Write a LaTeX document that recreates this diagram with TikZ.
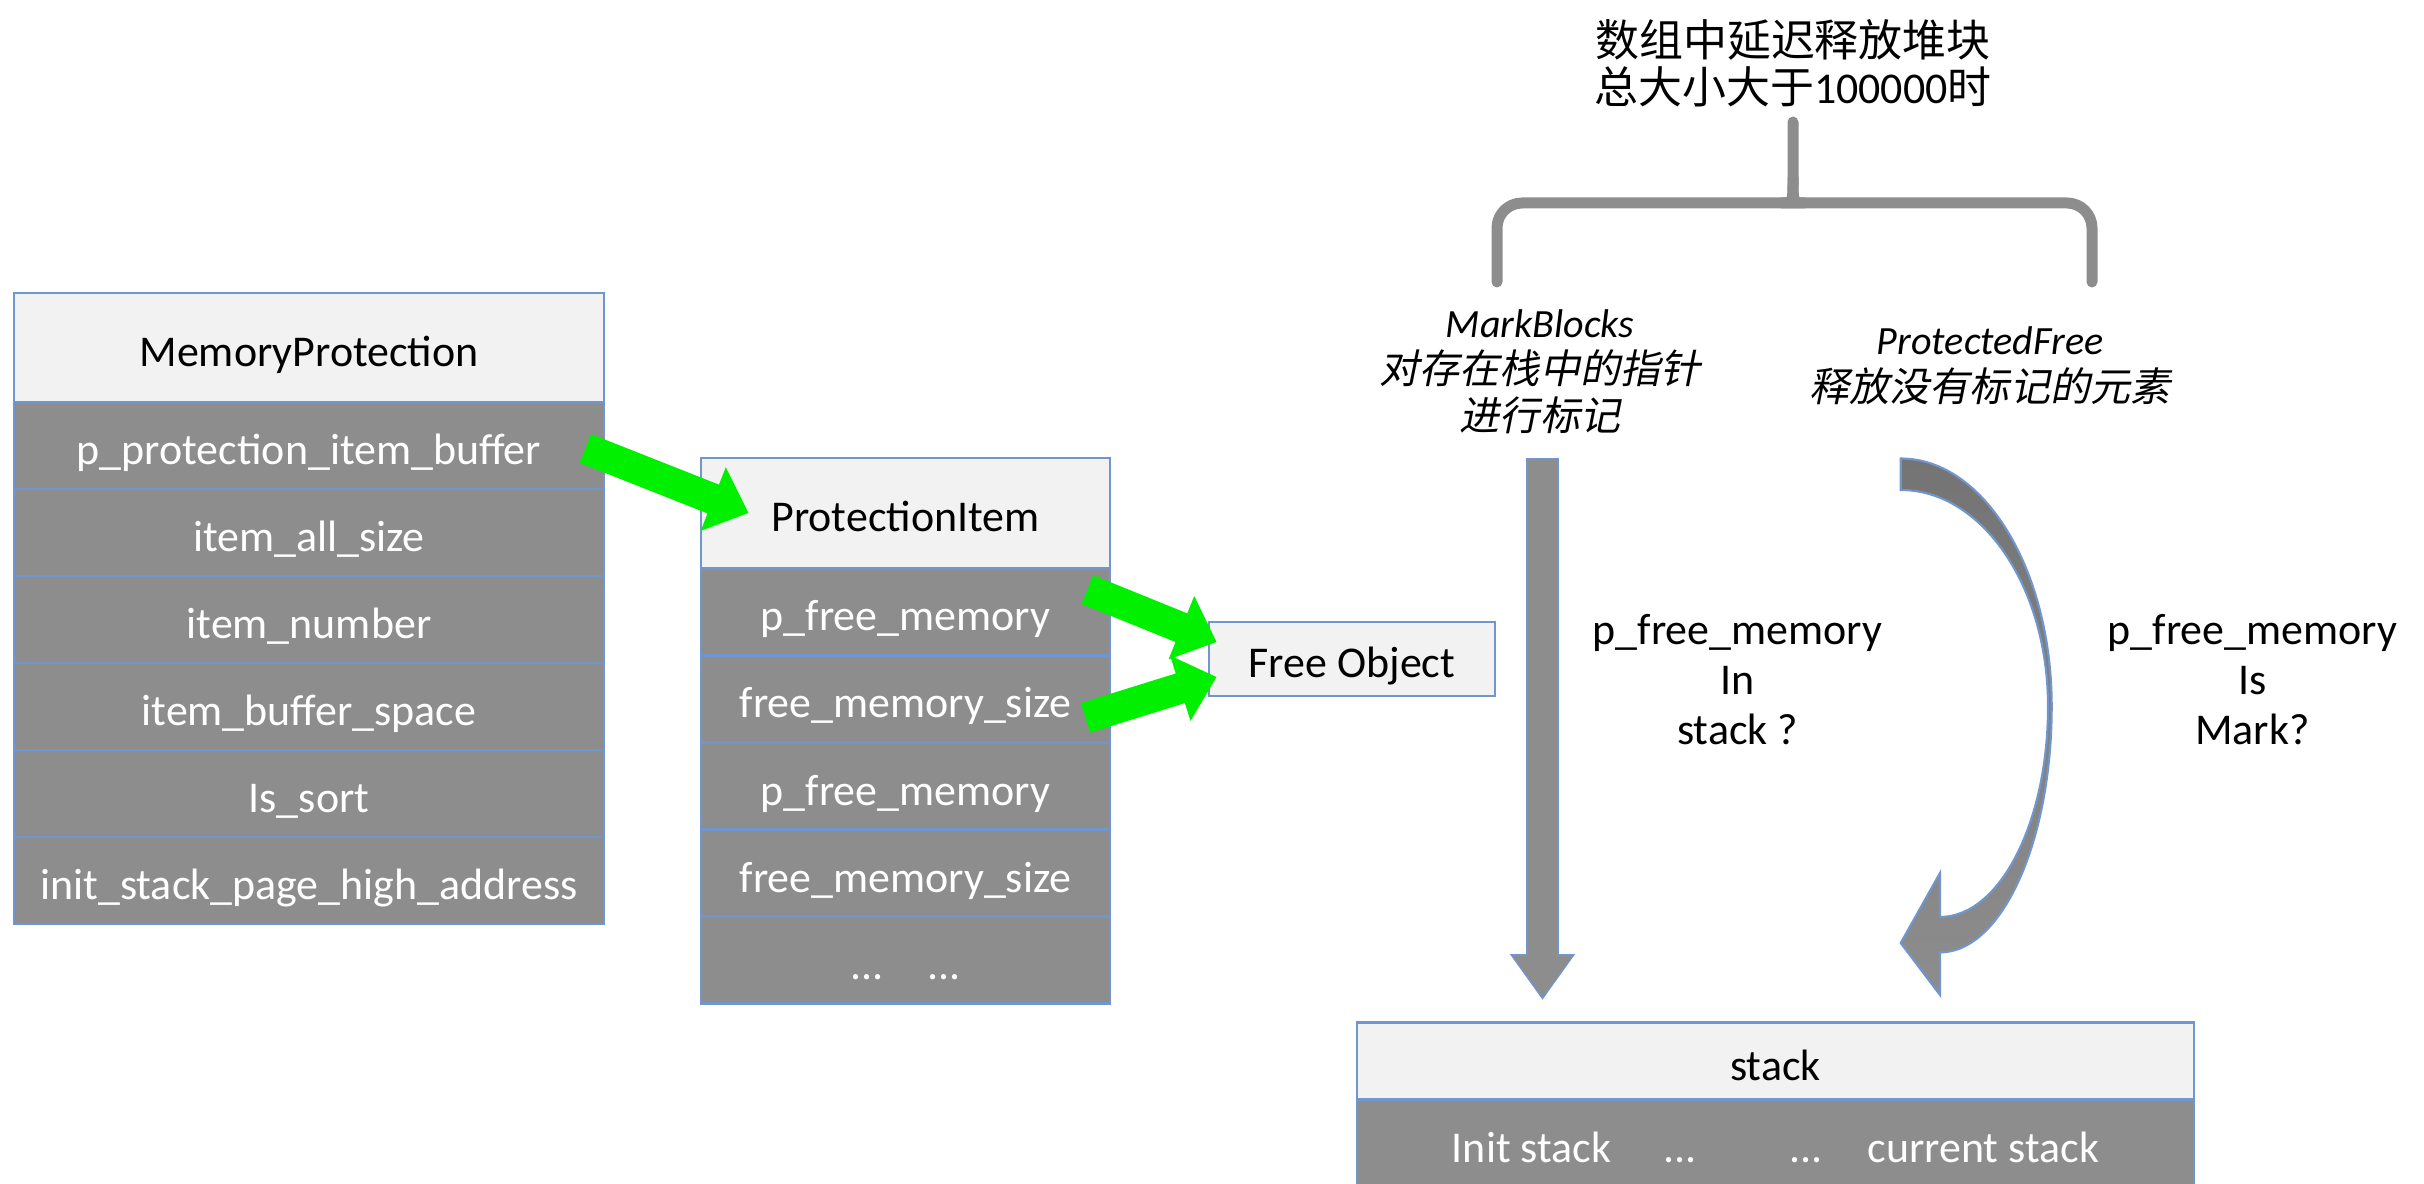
\documentclass[tikz,border=0pt]{standalone}
\usepackage{fontspec}
\setmainfont{Carlito}
\newfontfamily\cjk{Noto Sans CJK SC}
\newfontfamily\cjkit[FakeSlant=0.2]{Noto Sans CJK SC}
\usepackage{tikz}
\usetikzlibrary{arrows.meta}

\definecolor{bordc}{RGB}{112,150,205}
\definecolor{hdrc}{RGB}{242,242,242}
\definecolor{cellc}{RGB}{141,141,141}
\definecolor{arrd}{RGB}{116,116,116}
\definecolor{garrc}{RGB}{0,240,0}

\begin{document}
\begin{tikzpicture}[font=\fontsize{12.5}{15}\selectfont,
  box/.style={draw=bordc, line width=0.8pt, inner sep=0pt, text height=0.38cm, text depth=0pt},
  hdr/.style={box, fill=hdrc},
  cell/.style={box, fill=cellc, text=white, minimum height=0.87cm},
  mpcell/.style={cell, minimum width=5.9cm},
  picell/.style={cell, minimum width=4.09cm},
  note/.style={align=center, inner sep=0pt},
  garrow/.style={draw=garrc, line width=0.31cm, -{Triangle[width=0.66cm,length=0.38cm]}},
  gout/.style={draw=bordc, line width=0.33cm, -{Triangle[width=0.62cm,length=0.46cm]}},
  gin/.style={draw=cellc, line width=0.29cm, -{Triangle[width=0.56cm,length=0.41cm]}},
  brc/.style={draw=cellc, line width=0.11cm, line cap=round}]
\useasboundingbox (0,0) rectangle (24.24,-11.84);
\clip (0,0) rectangle (24.24,-11.84);

% MemoryProtection
\node (mp) [hdr, minimum width=5.9cm, minimum height=1.09cm] at (3.09,-3.475) {MemoryProtection};
\node (mp1) [mpcell] at (3.09,-4.455) {p\_protection\_item\_buffer};
\node (mp2) [mpcell] at (3.09,-5.325) {item\_all\_size};
\node (mp3) [mpcell] at (3.09,-6.195) {item\_number};
\node (mp4) [mpcell] at (3.09,-7.065) {item\_buffer\_space};
\node (mp5) [mpcell] at (3.09,-7.935) {Is\_sort};
\node (mp6) [mpcell] at (3.09,-8.805) {init\_stack\_page\_high\_address};

% ProtectionItem
\node (pi) [hdr, minimum width=4.09cm, minimum height=1.10cm] at (9.055,-5.13) {ProtectionItem};
\node (pi1) [picell] at (9.055,-6.116) {p\_free\_memory};
\node (pi2) [picell] at (9.055,-6.988) {free\_memory\_size};
\node (pi3) [picell] at (9.055,-7.86) {p\_free\_memory};
\node (pi4) [picell] at (9.055,-8.732) {free\_memory\_size};
\node (pi5) [picell] at (9.055,-9.604) {...\hspace{0.44cm}...};

\node (fo) [hdr, minimum width=2.86cm, minimum height=0.74cm] at (13.52,-6.59) {Free Object};

% stack
\node (stk) [hdr, minimum width=8.37cm, minimum height=0.77cm] at (17.755,-10.61) {stack};
\node (stk1) [cell, minimum width=8.37cm] at (17.755,-11.435) {Init stack\hspace{0.52cm}...\hspace{0.93cm}...\hspace{0.45cm}current stack};

% labels
\node (top) [note, font=\fontsize{12.5}{13.3}\selectfont\cjk] at (17.93,-0.634) {数组中延迟释放堆块\\总大小大于{\rmfamily 100000}时};
\node (mb) [note, font=\fontsize{11.4}{13.3}\selectfont] at (15.40,-3.717) {{\itshape MarkBlocks}\\{\cjkit 对存在栈中的指针}\\{\cjkit 进行标记}};
\node (pf) [note, font=\fontsize{11.4}{13.3}\selectfont] at (19.90,-3.66) {{\itshape ProtectedFree}\\{\cjkit 释放没有标记的元素}};
\node (q1) [note, font=\fontsize{12.5}{14.2}\selectfont] at (17.375,-6.796) {p\_free\_memory\\In\\stack ?};
\node (q2) [note, font=\fontsize{12.5}{14.2}\selectfont] at (22.525,-6.796) {p\_free\_memory\\Is\\Mark?};

% brace
\draw[brc, rounded corners=0.25cm] (14.97,-2.82) |- (17.80,-2.03) [sharp corners] .. controls (17.93,-2.03) .. (17.93,-1.78) -- (17.93,-1.22);
\draw[brc, rounded corners=0.25cm] (20.92,-2.82) |- (18.06,-2.03) [sharp corners] .. controls (17.93,-2.03) .. (17.93,-1.78);

% green pointers
\draw[garrow] ([shift={(-0.2,-0.03)}]mp1.east) -- ([xshift=0.49cm]pi.west);
\draw[garrow] ([shift={(-0.24,0.22)}]pi1.east) -- ([shift={(0.09,0.17)}]fo.west);
\draw[garrow] ([shift={(-0.26,-0.19)}]pi2.east) -- ([shift={(0.09,-0.18)}]fo.west);

% MarkBlocks arrow
\coordinate (mbarr) at (15.425,-4.58);
\draw[gout, shorten >=0.21cm] (mbarr) -- (mbarr |- stk.north);
\draw[gin, shorten >=0.24cm, shorten <=0.02cm] (mbarr) -- (mbarr |- stk.north);

% ProtectedFree arrow
\shadedraw[top color=arrd, bottom color=cellc, draw=bordc, line width=0.6pt]
  (19.007,-4.585) .. controls (19.84,-4.585) and (20.517,-5.696) .. (20.517,-7.064)
  .. controls (20.517,-8.42) and (20.017,-9.524) .. (19.40,-9.524)
  -- (19.40,-9.95) -- (19.007,-9.43) -- (19.40,-8.73) -- (19.40,-9.17)
  .. controls (19.996,-9.17) and (20.48,-8.227) .. (20.48,-7.064)
  .. controls (20.48,-5.869) and (19.82,-4.90) .. (19.007,-4.90) -- cycle;
\end{tikzpicture}
\end{document}
